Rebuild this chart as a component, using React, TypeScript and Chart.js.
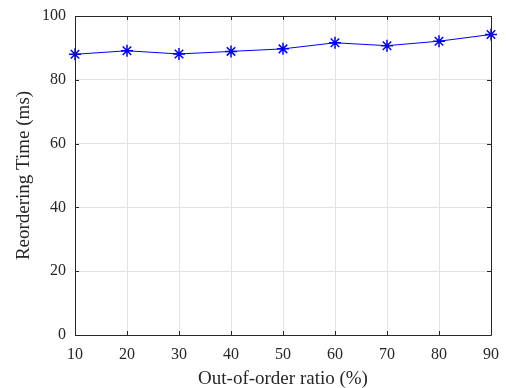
import React, { useEffect, useRef } from "react";
import { Chart, registerables } from "chart.js";

Chart.register(...registerables);

const ratios: number[] = [10, 20, 30, 40, 50, 60, 70, 80, 90];
const reorderTimes: number[] = [88.0, 89.1, 88.1, 88.9, 89.7, 91.6, 90.7, 92.1, 94.2];
const xTicks: number[] = [10, 20, 30, 40, 50, 60, 70, 80, 90];
const yTicks: number[] = [0, 20, 40, 60, 80, 100];

const FONT = "'Liberation Serif', 'Times New Roman', serif";
const AXIS = "#262626";

const boxPlugin = {
  id: "matlabBox",
  afterDraw(chart: any) {
    const { ctx, chartArea } = chart;
    const { left, right, top, bottom } = chartArea;
    const xs = chart.scales.x;
    const ys = chart.scales.y;
    const tl = 4;
    ctx.save();
    ctx.strokeStyle = AXIS;
    ctx.lineWidth = 1;
    ctx.beginPath();
    ctx.rect(Math.round(left) + 0.5, Math.round(top) + 0.5, Math.round(right - left), Math.round(bottom - top));
    for (const v of xTicks) {
      const px = Math.round(xs.getPixelForValue(v)) + 0.5;
      ctx.moveTo(px, bottom);
      ctx.lineTo(px, bottom - tl);
      ctx.moveTo(px, top);
      ctx.lineTo(px, top + tl);
    }
    for (const v of yTicks) {
      const py = Math.round(ys.getPixelForValue(v)) + 0.5;
      ctx.moveTo(left, py);
      ctx.lineTo(left + tl, py);
      ctx.moveTo(right, py);
      ctx.lineTo(right - tl, py);
    }
    ctx.stroke();
    ctx.restore();
  },
};

const zeroPad = (s: any) => {
  s.paddingLeft = 0;
  s.paddingRight = 0;
  s.paddingTop = 0;
  s.paddingBottom = 0;
};

export default function App() {
  const ref = useRef<HTMLCanvasElement | null>(null);
  useEffect(() => {
    if (!ref.current) return;
    const chart = new Chart(ref.current, {
      type: "line",
      data: {
        labels: ratios,
        datasets: [
          {
            data: ratios.map((r, i) => ({ x: r, y: reorderTimes[i] })),
            borderColor: "#0000ff",
            backgroundColor: "#0000ff",
            borderWidth: 1,
            pointStyle: "star",
            pointRadius: 6,
            pointBorderWidth: 1.5,
            pointBorderColor: "#0000ff",
            tension: 0,
            clip: false as any,
          },
        ],
      },
      options: {
        animation: false,
        responsive: false,
        maintainAspectRatio: false,
        layout: { padding: { left: 0, top: 16, right: 15, bottom: 0 } },
        plugins: { legend: { display: false }, tooltip: { enabled: false } },
        scales: {
          x: {
            type: "linear",
            min: 10,
            max: 90,
            afterBuildTicks: (s: any) => {
              s.ticks = xTicks.map((v) => ({ value: v }));
            },
            afterFit: (s: any) => {
              s.height = 53;
              zeroPad(s);
            },
            grid: { color: "#e3e3e3", drawTicks: false, lineWidth: 1 },
            border: { display: false },
            ticks: {
              color: AXIS,
              padding: 10,
              font: { family: FONT, size: 16 },
              maxRotation: 0,
            },
            title: {
              display: true,
              text: "Out-of-order ratio (%)",
              color: AXIS,
              font: { family: FONT, size: 19, lineHeight: 1 },
              padding: { top: 0, bottom: -1 },
            },
          },
          y: {
            type: "linear",
            min: 0,
            max: 100,
            afterBuildTicks: (s: any) => {
              s.ticks = yTicks.map((v) => ({ value: v }));
            },
            afterFit: (s: any) => {
              s.width = 75;
              zeroPad(s);
            },
            grid: { color: "#e3e3e3", drawTicks: false, lineWidth: 1 },
            border: { display: false },
            ticks: {
              color: AXIS,
              padding: 9,
              font: { family: FONT, size: 16 },
            },
            title: {
              display: true,
              text: "Reordering Time (ms)",
              color: AXIS,
              font: { family: FONT, size: 19, lineHeight: 1 },
              padding: { top: 15, bottom: 0 },
            },
          },
        },
      },
      plugins: [boxPlugin],
    });
    return () => chart.destroy();
  }, []);
  return (
    <div style={{ position: "fixed", left: 0, top: 0, width: 506, height: 388, background: "#fff" }}>
      <canvas ref={ref} width={506} height={388} style={{ display: "block", width: 506, height: 388 }} />
    </div>
  );
}
